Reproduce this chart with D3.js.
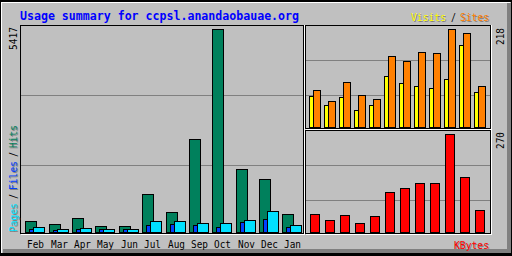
<!DOCTYPE html>
<html>
<head>
<meta charset="utf-8">
<script src="https://cdn.jsdelivr.net/npm/d3@7"></script>
<style>
html, body { margin: 0; padding: 0; background: #fff; }
svg { display: block; }
text { font-family: "DejaVu Sans Mono", "Liberation Mono", monospace; }
</style>
</head>
<body>
<div id="chart"></div>
<script>
// data
var title = "Usage summary for ccpsl.anandaobauae.org";
var months = ["Feb", "Mar", "Apr", "May", "Jun", "Jul", "Aug", "Sep", "Oct", "Nov", "Dec", "Jan"];
var hits = [293, 213, 374, 160, 160, 1014, 534, 2482, 5417, 1681, 1406, 480];
var files = [80, 53, 80, 80, 80, 187, 213, 187, 133, 267, 347, 133];
var pages = [133, 80, 107, 80, 80, 293, 293, 240, 240, 320, 560, 187];
var visits = [69, 49, 67, 38, 49, 113, 98, 91, 87, 107, 182, 78];
var sites = [82, 58, 100, 71, 62, 158, 147, 167, 165, 218, 209, 91];
var kbytes = [50, 33, 47, 25, 44, 110, 121, 135, 135, 270, 152, 61];

var GREY = "#c0c0c0", DKGREY = "#808080", BLACK = "#000000", WHITE = "#ffffff";
var HITC = "#00805c", FILEC = "#0040ff", PAGEC = "#00e0ff";
var VISITC = "#ffff00", SITEC = "#ff8000", KBYTEC = "#ff0000";

var W = 512, H = 256;
var svg = d3.select("#chart").append("svg")
    .attr("width", W).attr("height", H);
var g = svg.append("g").attr("shape-rendering", "crispEdges");

function px(x, y, w, h, c) {
    g.append("rect").attr("x", x).attr("y", y).attr("width", w).attr("height", h).attr("fill", c);
}
function hline(y, x1, x2, c) { px(x1, y, x2 - x1 + 1, 1, c); }
function vline(x, y1, y2, c) { px(x, y1, 1, y2 - y1 + 1, c); }

// background and outer bevel
px(0, 0, W, H, GREY);
px(3, 249, 508, 4, DKGREY);
px(507, 3, 4, 250, DKGREY);
hline(0, 0, 511, BLACK); hline(1, 0, 511, BLACK);
hline(253, 0, 511, BLACK); hline(254, 0, 511, BLACK); hline(255, 0, 511, BLACK);
vline(0, 0, 255, BLACK); vline(511, 0, 255, BLACK);
hline(2, 1, 509, WHITE); vline(1, 2, 252, WHITE);

// panel frames
function frame(x1, y1, x2, y2, grid) {
    grid.forEach(function (gy) { hline(gy, x1 + 1, x2 - 1, DKGREY); });
    hline(y1, x1, x2, BLACK);
    vline(x1, y1, y2, BLACK);
    hline(y2, x1, x2, BLACK);
    vline(x2, y1, y2, BLACK);
    hline(y2 + 1, x1 + 1, x2 + 1, WHITE);
    vline(x2 + 1, y1, y2 + 1, WHITE);
}
frame(20, 25, 303, 233, [25 + 70, 25 + 140]);
frame(305, 25, 490, 128, [25 + 35, 25 + 70]);
frame(305, 130, 490, 233, [130 + 35, 130 + 70]);

// scales
var xMain = d3.scaleBand().domain(months).range([25.4, 25.4 + 12 * 23.36]);
var xSide = d3.scaleBand().domain(months).range([309, 309 + 12 * 15]);
var yMain = d3.scaleLinear().domain([0, d3.max(hits)]).range([232, 29]);
var yVS = d3.scaleLinear().domain([0, d3.max(visits.concat(sites))]).range([127, 29]);
var yKB = d3.scaleLinear().domain([0, d3.max(kbytes)]).range([232, 134]);

function bars(values, xs, off, w, ys, color) {
    var base = ys.range()[0];
    g.append("g").selectAll("rect")
        .data(values)
        .enter()
        .append("rect")
        .attr("x", function (d, i) { return Math.round(xs(months[i])) + off + 0.5; })
        .attr("y", function (d) { return Math.round(ys(d)) + 0.5; })
        .attr("width", w)
        .attr("height", function (d) { return base - Math.round(ys(d)); })
        .attr("fill", color)
        .attr("stroke", BLACK)
        .attr("stroke-width", 1);
}
bars(hits, xMain, 0, 11, yMain, HITC);
bars(files, xMain, 4, 11, yMain, FILEC);
bars(pages, xMain, 8, 11, yMain, PAGEC);
bars(visits, xSide, 0, 7, yVS, VISITC);
bars(sites, xSide, 4, 7, yVS, SITEC);
bars(kbytes, xSide, 1, 9, yKB, KBYTEC);

// texts
var t = svg.append("g");
t.append("text")
    .attr("x", 20).attr("y", 20)
    .attr("font-size", 12).attr("font-weight", "bold")
    .attr("fill", "#0000ff")
    .attr("textLength", title.length * 7 - 1).attr("lengthAdjust", "spacingAndGlyphs")
    .text(title);

t.append("g").selectAll("text")
    .data(months)
    .enter()
    .append("text")
    .attr("x", function (d) { return Math.round(xMain(d)) + 2; })
    .attr("y", 248)
    .attr("font-size", 11)
    .attr("fill", BLACK)
    .attr("textLength", 17).attr("lengthAdjust", "spacingAndGlyphs")
    .text(function (d) { return d; });

// label with dark grey shadow, optionally rotated upwards
function label(str, x, y, color, up, shadow) {
    var len = str.length * 6 - 1;
    [[1, DKGREY], [0, color]].forEach(function (p) {
        if (p[0] && !shadow) return;
        var el = t.append("text")
            .attr("font-size", 11)
            .attr("fill", p[1])
            .attr("textLength", len).attr("lengthAdjust", "spacingAndGlyphs")
            .text(str);
        if (up) {
            el.attr("transform", "translate(" + (x + p[0]) + "," + (y + p[0]) + ") rotate(-90)");
        } else {
            el.attr("x", x + p[0]).attr("y", y + p[0]);
        }
    });
}

label(String(d3.max(hits)), 17, 50, BLACK, true, false);
label(String(d3.max(visits.concat(sites))), 504, 45, BLACK, true, false);
label(String(d3.max(kbytes)), 504, 149, BLACK, true, false);

label("Pages", 17, 232, PAGEC, true, true);
label("/", 17, 199, BLACK, true, false);
label("Files", 17, 190, FILEC, true, true);
label("/", 17, 157, BLACK, true, false);
label("Hits", 17, 148, HITC, true, true);

label("Visits", 411, 21, VISITC, false, true);
label("/", 451, 21, BLACK, false, false);
label("Sites", 460, 21, SITEC, false, true);

label("KBytes", 454, 249, KBYTEC, false, true);
</script>
</body>
</html>
